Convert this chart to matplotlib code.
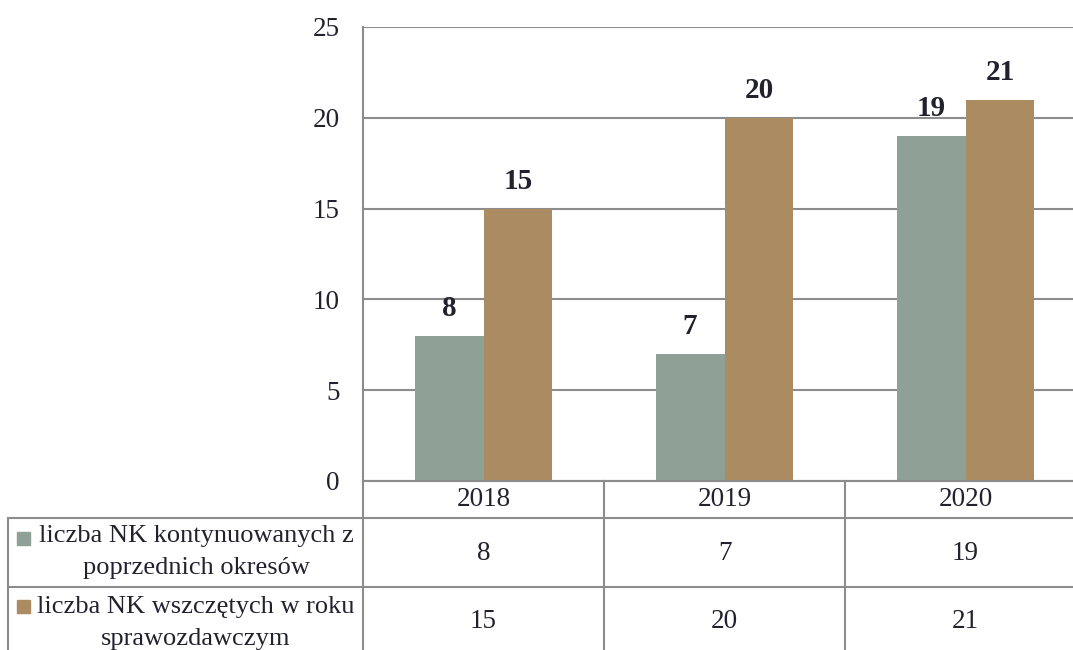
import matplotlib
matplotlib.use("Agg")
import matplotlib.pyplot as plt
from matplotlib.lines import Line2D
from matplotlib.patches import Rectangle

years = ["2018", "2019", "2020"]
series_names = [["liczba NK kontynuowanych z", "poprzednich okresów"],
                ["liczba NK wszczętych w roku", "sprawozdawczym"]]
continued = [8, 7, 19]
started = [15, 20, 21]
colors = ["#8FA197", "#AB8C62"]

plt.rcParams['font.family'] = ['Liberation Serif', 'DejaVu Serif']
W, H = 1073, 650
fig = plt.figure(figsize=(W / 100, H / 100), dpi=100)

# plot area in pixels (right edge runs past the image, as in the original)
left, right, top, bottom = 363, 1086, 27, 481
ax = fig.add_axes([left / W, 1 - bottom / H, (right - left) / W, (bottom - top) / H])

grid_col = "#8c8c8c"
tcol = "#22222e"
bw = 0.286
xs = range(len(years))
for k, (vals, col) in enumerate(zip([continued, started], colors)):
    pos = [x + (k - 0.5) * bw for x in xs]
    bars = ax.bar(pos, vals, width=bw, color=col, zorder=3, edgecolor="none")
    for b, v in zip(bars, vals):
        ax.annotate(str(v), (b.get_x() + b.get_width() / 2, v),
                    xytext=(0, 10), textcoords="offset points",
                    ha="center", va="bottom", fontsize=21, fontweight="bold",
                    color=tcol, zorder=4)

ax.set_xlim(-0.5, len(years) - 0.5)
ax.set_ylim(0, 25)
ax.set_yticks(range(0, 26, 5))
ax.set_xticks([])
ax.yaxis.grid(True, color=grid_col, linewidth=1.5, zorder=0)
for s in ["top", "right", "bottom"]:
    ax.spines[s].set_visible(False)
ax.spines["left"].set_color(grid_col)
ax.spines["left"].set_linewidth(1.5)
ax.tick_params(axis="y", length=0, labelsize=19.5, labelcolor=tcol, pad=17)

# data table drawn in pixel coordinates
ov = fig.add_axes([0, 0, 1, 1], zorder=5)
ov.set_xlim(0, W)
ov.set_ylim(H, 0)
ov.axis("off")

col_edges = [left, 604, 845, right]
row_edges = [481, 518, 587, 660]
lw = 1.5
ov.add_line(Line2D([left, right], [481, 481], color=grid_col, lw=lw))
for y in row_edges[1:3]:
    ov.add_line(Line2D([8, right], [y, y], color=grid_col, lw=lw))
ov.add_line(Line2D([8, 8], [518, 660], color=grid_col, lw=lw))
for x in col_edges[:3]:
    ov.add_line(Line2D([x, x], [481, 660], color=grid_col, lw=lw))

for i, yr in enumerate(years):
    cx = (col_edges[i] + col_edges[i + 1]) / 2
    ov.text(cx, 500, yr, ha="center", va="center", fontsize=19.5, color=tcol)
    ov.text(cx, 553, str(continued[i]), ha="center", va="center", fontsize=19.5, color=tcol)
    ov.text(cx, 621, str(started[i]), ha="center", va="center", fontsize=19.5, color=tcol)

line_y = [(536, 568), (607, 639)]
square_y = [538, 606]
for lines, col, ly, sy in zip(series_names, colors, line_y, square_y):
    for txt, y in zip(lines, ly):
        ov.text(196, y, txt, ha="center", va="center", fontsize=19, color=tcol)
    ov.add_patch(Rectangle((17, sy - 6), 13, 13, color=col))

fig.savefig("out.png", dpi=100)
